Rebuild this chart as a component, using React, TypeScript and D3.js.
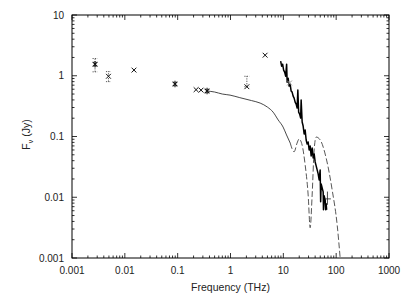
import React from 'react';
import * as d3 from 'd3';

const W = 409;
const H = 293;
const margin = { left: 72, right: 20, top: 15, bottom: 35 };

// tick labels (THz / Jy)
const xTickValues = [0.001, 0.01, 0.1, 1, 10, 100, 1000];
const xTickLabels = ['0.001', '0.01', '0.1', '1', '10', '100', '1000'];
const yTickValues = [0.001, 0.01, 0.1, 1, 10];
const yTickLabels = ['0.001', '0.01', '0.1', '1', '10'];

// photometry, "x" symbols
const crossFreq = [0.0049, 0.0149, 0.223, 0.277, 2.04, 4.52, 13.1];
const crossFlux = [0.98, 1.24, 0.59, 0.58, 0.66, 2.18, 0.76];

// photometry, "*" symbols
const starFreq = [0.00273, 0.089, 0.36];
const starFlux = [1.55, 0.73, 0.56];

// vertical error bars
const errFreq = [0.00273, 0.0049, 2.04];
const errLo = [1.16, 0.8, 0.66];
const errHi = [1.92, 1.17, 0.98];

// mid-IR point with error bars in both directions
const irFreq = 68.4;
const irFlux = 0.0094;
const irFreqLo = 62;
const irFreqHi = 79.5;
const irFluxLo = 0.0075;
const irFluxHi = 0.0124;

// model: smooth continuum, then the dashed part with the absorption dips
const modelFreq = [0.36, 0.5, 0.7, 0.98, 1.5, 2.5, 3.64, 5, 6.4, 8, 9.9, 11.5, 13.5, 16.0, 18.2, 19.9, 22.7, 25.9, 29.5, 32.2, 35.1, 38.3, 41.8, 49.8, 64.7, 84, 104.5, 119];
const modelFlux = [0.56, 0.54, 0.5, 0.48, 0.436, 0.39, 0.355, 0.305, 0.252, 0.187, 0.143, 0.106, 0.078, 0.056, 0.078, 0.091, 0.072, 0.034, 0.0109, 0.00315, 0.0109, 0.06, 0.098, 0.088, 0.044, 0.0132, 0.0035, 0.001];
const modelDashFrom = 13.5;

// IR spectrum (solid)
const specFreq = [8.89, 9.29, 9.7, 10.13, 10.58, 11.06, 11.55, 11.8, 12.33, 12.88, 13.45, 14.05, 14.68, 15.33, 16.02, 16.73, 17.48, 18.26, 18.82, 19.49, 20.36, 21.27, 21.74, 22.71, 23.71, 24.77, 25.88, 27.03, 28.24, 29.5, 30.81, 32.19, 33.62, 35.12, 36.69, 38.32, 40.03, 41.81, 43.68, 45.63, 47.66, 49.78, 50.87, 52.0, 54.32, 56.75, 57.49, 59.27, 61.92, 63.27, 64.66, 66.07];
const specFlux = [1.737, 1.438, 1.55, 1.236, 1.146, 0.985, 1.55, 0.785, 0.913, 0.675, 0.728, 0.559, 0.538, 0.462, 0.429, 0.368, 0.342, 0.294, 0.58, 0.2525, 0.234, 0.2013, 0.3975, 0.173, 0.1487, 0.11, 0.128, 0.0876, 0.0753, 0.0812, 0.06, 0.0698, 0.0478, 0.0647, 0.0444, 0.0516, 0.0381, 0.0328, 0.0282, 0.0242, 0.0193, 0.0282, 0.0084, 0.0166, 0.01427, 0.01227, 0.00621, 0.01054, 0.00907, 0.00621, 0.00779, 0.00621];

const font = '"Liberation Sans", Arial, sans-serif';

const App = () => {
  const x = d3.scaleLog().domain([0.001, 1000]).range([margin.left, W - margin.right]);
  const y = d3.scaleLog().domain([0.001, 10]).range([H - margin.bottom, margin.top]);
  const [x0, x1] = x.range();
  const [y0, y1] = y.range();

  const isMajor = (v: number) => Math.abs(Math.log10(v) - Math.round(Math.log10(v))) < 1e-6;
  const xTicks = x.ticks();
  const yTicks = y.ticks();

  const modelPts = modelFreq.map((f, i) => [f, modelFlux[i]] as [number, number]);
  const line = d3.line<[number, number]>()
    .x((d) => x(d[0]))
    .y((d) => y(d[1]))
    .curve(d3.curveMonotoneX);
  const specLine = d3.line<number>()
    .x((d, i) => x(specFreq[i]))
    .y((d) => y(d));

  const cross = (cx: number, cy: number, s: number) =>
    `M${cx - s},${cy - s}L${cx + s},${cy + s}M${cx - s},${cy + s}L${cx + s},${cy - s}`;
  const star = (cx: number, cy: number, s: number) =>
    cross(cx, cy, s) + `M${cx},${cy - s - 0.8}L${cx},${cy + s + 0.8}`;

  return (
    <svg width={W} height={H} style={{ position: 'fixed', left: 0, top: 0, background: '#fff' }}>
      <defs>
        <clipPath id="plot">
          <rect x={x0} y={y1} width={x1 - x0} height={y0 - y1} />
        </clipPath>
      </defs>

      {/* ticks, all pointing inward */}
      <g stroke="#000" strokeWidth={0.8}>
        {xTicks.map((t, i) => {
          const len = isMajor(t) ? 5 : 2.5;
          return (
            <g key={'xt' + i}>
              <line x1={x(t)} x2={x(t)} y1={y0} y2={y0 - len} />
              <line x1={x(t)} x2={x(t)} y1={y1} y2={y1 + len} />
            </g>
          );
        })}
        {yTicks.map((t, i) => {
          const len = isMajor(t) ? 5 : 2.5;
          return (
            <g key={'yt' + i}>
              <line x1={x0} x2={x0 + len} y1={y(t)} y2={y(t)} />
              <line x1={x1} x2={x1 - len} y1={y(t)} y2={y(t)} />
            </g>
          );
        })}
      </g>
      <rect x={x0} y={y1} width={x1 - x0} height={y0 - y1} fill="none" stroke="#000" strokeWidth={1} />

      {/* tick labels */}
      <g fontFamily={font} fontSize={10} fill="#222">
        {xTickValues.map((v, i) => (
          <text key={'xl' + i} x={x(v)} y={y0 + 16} textAnchor="middle">{xTickLabels[i]}</text>
        ))}
        {yTickValues.map((v, i) => (
          <text key={'yl' + i} x={x0 - 8} y={y(v) + 3.5} textAnchor="end">{yTickLabels[i]}</text>
        ))}
      </g>
      <text x={(x0 + x1) / 2} y={H - 2} textAnchor="middle" fontFamily={font} fontSize={10.5} fill="#222">
        Frequency (THz)
      </text>
      <text
        transform={`translate(30,${(y0 + y1) / 2 - 2}) rotate(-90)`}
        textAnchor="middle"
        fontFamily={font}
        fontSize={10.5}
        fill="#222"
      >
        F<tspan fontSize={7} dy={3}>ν</tspan><tspan dy={-3}> (Jy)</tspan>
      </text>

      <g clipPath="url(#plot)">
        {/* model */}
        <path d={line(modelPts.filter((d) => d[0] <= modelDashFrom)) || ''} fill="none" stroke="#333" strokeWidth={0.9} />
        <path d={line(modelPts.filter((d) => d[0] >= modelDashFrom)) || ''} fill="none" stroke="#444" strokeWidth={0.9} strokeDasharray="6,2.5" />
        {/* spectrum */}
        <path d={specLine(specFlux) || ''} fill="none" stroke="#000" strokeWidth={1.5} strokeLinejoin="round" />

        {/* error bars */}
        <g stroke="#333" strokeWidth={0.8} strokeDasharray="1.2,1.2">
          {errFreq.map((f, i) => (
            <g key={'e' + i}>
              <line x1={x(f)} x2={x(f)} y1={y(errLo[i])} y2={y(errHi[i])} />
              <line x1={x(f) - 2.5} x2={x(f) + 2.5} y1={y(errLo[i])} y2={y(errLo[i])} />
              <line x1={x(f) - 2.5} x2={x(f) + 2.5} y1={y(errHi[i])} y2={y(errHi[i])} />
            </g>
          ))}
        </g>
        <g stroke="#222" strokeWidth={0.8}>
          <line x1={x(irFreqLo)} x2={x(irFreqHi)} y1={y(irFlux)} y2={y(irFlux)} />
          <line x1={x(irFreq)} x2={x(irFreq)} y1={y(irFluxLo)} y2={y(irFluxHi)} />
        </g>

        {/* symbols */}
        <g fill="none" stroke="#111" strokeWidth={1}>
          {crossFreq.map((f, i) => (
            <path key={'c' + i} d={cross(x(f), y(crossFlux[i]), 2.4)} stroke={f > 10 ? '#999' : '#111'} />
          ))}
          {starFreq.map((f, i) => (
            <path key={'s' + i} d={star(x(f), y(starFlux[i]), 2.4)} strokeWidth={1.1} />
          ))}
        </g>
      </g>
    </svg>
  );
};

export default App;
